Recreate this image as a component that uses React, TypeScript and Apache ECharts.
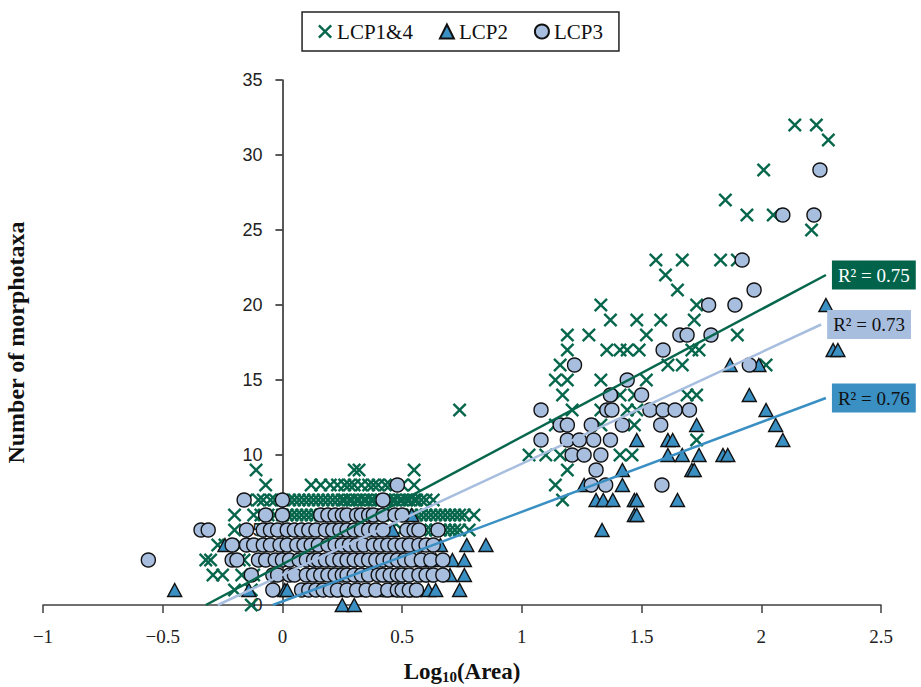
import React, { useEffect, useRef } from "react";
import * as echarts from "echarts";

// ---------- Data ----------
const seriesNames = ["LCP1&4", "LCP2", "LCP3"];
const xTicks = [-1, -0.5, 0, 0.5, 1, 1.5, 2, 2.5];
const yTicks = [0, 5, 10, 15, 20, 25, 30, 35];

// LCP1&4 (green crosses)
const lcp14: number[][] = [
  [2.14, 32], [2.23, 32], [2.28, 31], [2.01, 29], [1.85, 27], [1.94, 26], [2.05, 26], [2.21, 25],
  [1.56, 23], [1.67, 23], [1.83, 23], [1.9, 23], [1.6, 22], [1.65, 21], [1.73, 20], [1.58, 19],
  [1.72, 19], [1.9, 18], [1.33, 20], [1.37, 19], [1.48, 19], [1.19, 18], [1.28, 18], [1.52, 18],
  [1.19, 17], [1.355, 17], [1.41, 17], [1.44, 17], [1.49, 17], [1.71, 17], [1.74, 17], [1.16, 16],
  [1.61, 16], [1.67, 16], [2.02, 16], [1.14, 15], [1.19, 15], [1.33, 15], [1.52, 15], [1.17, 14],
  [1.41, 14], [1.47, 14], [1.69, 14], [1.73, 14], [1.21, 13], [1.33, 13], [1.44, 13], [1.48, 13],
  [1.14, 12], [1.33, 12], [1.47, 12], [1.03, 10], [1.1, 10], [1.16, 10], [1.41, 10], [1.46, 10],
  [1.73, 11], [1.19, 9], [1.14, 8], [1.17, 7], [0.74, 13],
  [-0.11, 9], [0.3, 9], [0.32, 9], [0.55, 9],
  [-0.07, 8], [0.12, 8], [0.16, 8], [0.2, 8], [0.23, 8], [0.26, 8], [0.28, 8], [0.3, 8], [0.33, 8],
  [0.36, 8], [0.38, 8], [0.4, 8], [0.43, 8], [0.45, 8], [0.5, 8], [0.55, 8],
  [-0.15, 7], [-0.1, 7], [-0.08, 7], [-0.05, 7], [-0.03, 7], [0.0, 7], [0.03, 7], [0.05, 7], [0.07, 7],
  [0.09, 7], [0.11, 7], [0.13, 7], [0.15, 7], [0.17, 7], [0.19, 7], [0.21, 7], [0.23, 7], [0.25, 7],
  [0.26, 7], [0.28, 7], [0.29, 7], [0.31, 7], [0.32, 7], [0.34, 7], [0.35, 7], [0.37, 7], [0.38, 7],
  [0.4, 7], [0.41, 7], [0.43, 7], [0.44, 7], [0.46, 7], [0.47, 7], [0.49, 7], [0.5, 7], [0.52, 7],
  [0.53, 7], [0.55, 7], [0.56, 7], [0.58, 7], [0.6, 7], [0.63, 7],
  [-0.2, 6], [-0.12, 6], [-0.09, 6], [-0.06, 6], [-0.03, 6], [0.0, 6], [0.02, 6], [0.04, 6], [0.06, 6],
  [0.08, 6], [0.1, 6], [0.12, 6], [0.14, 6], [0.16, 6], [0.18, 6], [0.2, 6], [0.22, 6], [0.24, 6],
  [0.26, 6], [0.28, 6], [0.3, 6], [0.32, 6], [0.34, 6], [0.36, 6], [0.38, 6], [0.4, 6], [0.42, 6],
  [0.44, 6], [0.46, 6], [0.48, 6], [0.5, 6], [0.52, 6], [0.54, 6], [0.56, 6], [0.58, 6], [0.6, 6],
  [0.62, 6], [0.64, 6], [0.66, 6], [0.68, 6], [0.7, 6], [0.72, 6], [0.74, 6], [0.76, 6], [0.8, 6],
  [-0.2, 5], [-0.08, 5], [-0.04, 5], [0.1, 5], [0.2, 5], [0.3, 5], [0.45, 5], [0.5, 5], [0.55, 5],
  [0.6, 5], [0.62, 5], [0.64, 5], [0.66, 5], [0.68, 5], [0.7, 5], [0.72, 5], [0.74, 5], [0.78, 5],
  [-0.27, 4], [-0.24, 4], [-0.17, 4], [-0.12, 4],
  [-0.32, 3], [-0.3, 3], [-0.18, 3], [-0.16, 3],
  [-0.29, 2], [-0.25, 2], [-0.17, 2], [-0.12, 2],
  [-0.13, 1], [-0.2, 1], [-0.13, 0],
];

// LCP2 (blue triangles)
const lcp2: number[][] = [
  [-0.45, 1], [-0.24, 4], [-0.14, 1], [0.01, 1], [0.02, 1], [0.25, 0], [0.3, 0], [0.46, 5], [0.54, 6],
  [0.77, 4], [0.85, 4], [0.71, 3], [0.76, 3], [0.61, 2], [0.7, 2], [0.76, 2], [0.24, 1], [0.32, 1],
  [0.45, 1], [0.55, 1], [0.61, 1], [0.64, 1], [0.74, 1], [0.66, 4], [0.4, 1], [0.52, 1], [0.58, 3],
  [0.64, 3], [0.5, 4], [0.44, 2],
  [1.87, 16], [1.99, 16], [1.95, 14], [2.02, 13], [2.06, 12], [2.09, 11], [1.48, 11], [1.61, 11],
  [1.63, 11], [1.73, 12], [1.61, 10], [1.67, 10], [1.74, 10], [1.84, 10], [1.86, 10], [1.42, 9],
  [1.71, 9], [1.72, 9], [1.26, 8], [1.42, 8], [1.31, 7], [1.34, 7], [1.38, 7], [1.47, 7], [1.48, 7],
  [1.65, 7], [1.47, 6], [1.48, 6], [1.335, 5], [2.27, 20], [2.3, 17], [2.32, 17],
];

// LCP3 (light blue circles)
const lcp3: number[][] = [
  [-0.56, 3],
  [-0.04, 1], [0.08, 1], [0.11, 1], [0.14, 1], [0.17, 1], [0.2, 1], [0.23, 1], [0.27, 1], [0.31, 1],
  [0.35, 1], [0.39, 1], [0.44, 1], [0.48, 1], [0.5, 1], [0.53, 1], [0.56, 1],
  [-0.13, 2], [-0.04, 2], [-0.02, 2], [0.03, 2], [0.05, 2], [0.1, 2], [0.13, 2], [0.16, 2], [0.19, 2],
  [0.22, 2], [0.25, 2], [0.27, 2], [0.3, 2], [0.33, 2], [0.36, 2], [0.4, 2], [0.42, 2], [0.45, 2],
  [0.48, 2], [0.5, 2], [0.53, 2], [0.57, 2], [0.6, 2], [0.63, 2], [0.67, 2],
  [-0.21, 3], [-0.19, 3], [-0.1, 3], [-0.07, 3], [-0.03, 3], [0.0, 3], [0.03, 3], [0.07, 3], [0.1, 3],
  [0.13, 3], [0.15, 3], [0.18, 3], [0.21, 3], [0.24, 3], [0.27, 3], [0.3, 3], [0.33, 3], [0.36, 3],
  [0.39, 3], [0.42, 3], [0.45, 3], [0.48, 3], [0.51, 3], [0.54, 3], [0.58, 3], [0.62, 3], [0.67, 3],
  [-0.21, 4], [-0.15, 4], [-0.12, 4], [-0.08, 4], [-0.05, 4], [-0.01, 4], [0.02, 4], [0.06, 4], [0.09, 4],
  [0.12, 4], [0.15, 4], [0.19, 4], [0.22, 4], [0.25, 4], [0.28, 4], [0.31, 4], [0.34, 4], [0.38, 4],
  [0.41, 4], [0.44, 4], [0.47, 4], [0.5, 4], [0.53, 4], [0.57, 4], [0.6, 4], [0.63, 4],
  [-0.34, 5], [-0.31, 5], [-0.15, 5], [-0.08, 5], [-0.05, 5], [-0.02, 5], [0.02, 5], [0.05, 5], [0.08, 5],
  [0.11, 5], [0.14, 5], [0.18, 5], [0.21, 5], [0.24, 5], [0.27, 5], [0.3, 5], [0.33, 5], [0.36, 5],
  [0.39, 5], [0.42, 5], [0.52, 5], [0.55, 5], [0.57, 5], [0.65, 5],
  [-0.07, 6], [0.0, 6], [0.16, 6], [0.19, 6], [0.22, 6], [0.25, 6], [0.27, 6], [0.31, 6], [0.33, 6],
  [0.36, 6], [0.38, 6], [0.42, 6], [0.47, 6], [0.5, 6],
  [-0.16, 7], [0.0, 7], [0.42, 7], [0.48, 8],
  [1.78, 20], [1.89, 20], [1.66, 18], [1.69, 18], [1.79, 18], [1.59, 17], [1.22, 16], [1.95, 16],
  [1.44, 15], [1.37, 14], [1.5, 14], [1.08, 13], [1.355, 13], [1.376, 13], [1.535, 13], [1.59, 13],
  [1.64, 13], [1.7, 13], [1.16, 12], [1.19, 12], [1.29, 12], [1.42, 12], [1.58, 12], [1.08, 11],
  [1.19, 11], [1.24, 11], [1.3, 11], [1.37, 11], [1.21, 10], [1.26, 10], [1.33, 10], [1.31, 9],
  [1.29, 8], [1.35, 8], [1.585, 8], [2.245, 29], [2.09, 26], [2.22, 26], [1.92, 23], [1.97, 21],
];

// Trend line end points and R² values
const trend14: number[][] = [[-0.32, 0], [2.27, 22]];
const trend3: number[][] = [[-0.27, 0], [2.25, 18.7]];
const trend2: number[][] = [[-0.04, 0], [2.27, 13.8]];
const r2Labels = ["R² = 0.75", "R² = 0.73", "R² = 0.76"];

// ---------- Layout & styles ----------
const W = 921;
const H = 687;
const GRID = { left: 43, right: 40, top: 80, bottom: 82 };
const GREEN = "#07674c";
const BLUE = "#3a8fc3";
const LIGHT = "#a8bedf";
const CROSS =
  "path://M1.2,0 L5,3.8 L8.8,0 L10,1.2 L6.2,5 L10,8.8 L8.8,10 L5,6.2 L1.2,10 L0,8.8 L3.8,5 L0,1.2 Z";
const SERIF = "'Liberation Serif', 'Times New Roman', serif";
const SANS = "'Liberation Sans', Arial, sans-serif";

export default function App() {
  const ref = useRef<HTMLDivElement>(null);

  useEffect(() => {
    if (!ref.current) return;
    const chart = echarts.init(ref.current, undefined, { renderer: "svg" });

    const xMin = xTicks[0];
    const xMax = xTicks[xTicks.length - 1];
    // y axis sits at x = 0: shift it from the grid's left edge
    const plotW = W - GRID.left - GRID.right;
    const yAxisOffset = -((0 - xMin) / (xMax - xMin)) * plotW;

    const trendSeries = (name: string, data: number[][], color: string, label: string, bg: string, fg: string) => ({
      name,
      type: "line",
      data,
      symbol: "none",
      z: 5,
      clip: true,
      silent: true,
      lineStyle: { color, width: 2.5 },
      endLabel: {
        show: true,
        formatter: label,
        backgroundColor: bg,
        color: fg,
        padding: [5, 6],
        fontSize: 19,
        fontFamily: SERIF,
        distance: 6,
      },
    });

    chart.setOption({
      animation: false,
      legend: {
        data: seriesNames,
        top: 12,
        left: "center",
        borderColor: "#222",
        borderWidth: 1.5,
        padding: [9, 16],
        itemGap: 26,
        itemWidth: 14,
        itemHeight: 14,
        textStyle: { fontFamily: SERIF, fontSize: 21, color: "#111" },
      },
      grid: { ...GRID, containLabel: false, outerBoundsMode: "none" },
      xAxis: {
        type: "value",
        min: xMin,
        max: xMax,
        interval: 0.5,
        splitLine: { show: false },
        axisLine: { onZero: false, lineStyle: { color: "#404040", width: 1.5 } },
        axisTick: { show: true, length: 8, lineStyle: { color: "#404040", width: 1.5 } },
        axisLabel: {
          margin: 22,
          fontFamily: SERIF,
          fontSize: 19,
          color: "#222",
          formatter: (v: number) => String(v).replace("-", "−"),
        },
        name: "{a|Log}{s|10}{a|(Area)}",
        nameLocation: "middle",
        nameGap: 53,
        nameTextStyle: {
          rich: {
            a: { fontFamily: SERIF, fontSize: 23, fontWeight: "bold", color: "#111", lineHeight: 26 },
            s: { fontFamily: SERIF, fontSize: 15, fontWeight: "bold", color: "#111", lineHeight: 14, verticalAlign: "bottom" },
          },
        },
      },
      yAxis: {
        type: "value",
        min: yTicks[0],
        max: yTicks[yTicks.length - 1],
        interval: 5,
        position: "left",
        offset: yAxisOffset,
        splitLine: { show: false },
        axisLine: { show: true, onZero: false, lineStyle: { color: "#222", width: 1.5 } },
        axisTick: { show: true, length: 7, lineStyle: { color: "#222", width: 1.5 } },
        axisLabel: { margin: 20, fontFamily: SANS, fontSize: 18, color: "#222" },
        name: "Number of morphotaxa",
        nameLocation: "middle",
        nameGap: 254,
        nameTextStyle: { fontFamily: SERIF, fontSize: 24, fontWeight: "bold", color: "#111" },
      },
      series: [
        {
          name: seriesNames[0],
          type: "scatter",
          data: lcp14,
          symbol: CROSS,
          symbolSize: 14,
          z: 2,
          itemStyle: { color: GREEN, opacity: 1 },
        },
        {
          name: seriesNames[1],
          type: "scatter",
          data: lcp2,
          symbol: "triangle",
          symbolSize: [14, 13],
          z: 3,
          itemStyle: { color: BLUE, borderColor: "#111", borderWidth: 1.4, opacity: 1 },
        },
        {
          name: seriesNames[2],
          type: "scatter",
          data: lcp3,
          symbol: "circle",
          symbolSize: 14,
          z: 4,
          itemStyle: { color: LIGHT, borderColor: "#111", borderWidth: 1.4, opacity: 1 },
        },
        trendSeries("trend14", trend14, GREEN, r2Labels[0], "#00634a", "#ffffff"),
        trendSeries("trend3", trend3, LIGHT, r2Labels[1], LIGHT, "#111"),
        trendSeries("trend2", trend2, BLUE, r2Labels[2], BLUE, "#111"),
      ],
    });

    return () => chart.dispose();
  }, []);

  return <div ref={ref} style={{ position: "absolute", left: 0, top: 0, width: W, height: H }} />;
}
